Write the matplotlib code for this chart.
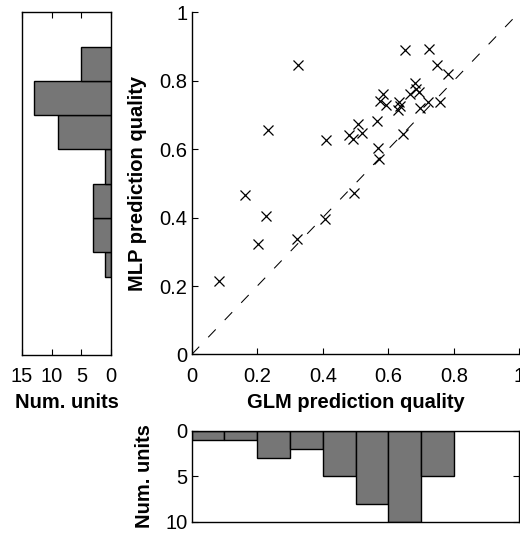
import matplotlib
matplotlib.use("Agg")
import matplotlib.pyplot as plt
import numpy as np

plt.rcParams['font.family'] = ['Liberation Sans', 'DejaVu Sans']

# GLM vs MLP prediction quality per unit
glm = [0.084, 0.163, 0.201, 0.226, 0.234, 0.322, 0.325, 0.407, 0.409, 0.480,
       0.493, 0.496, 0.509, 0.521, 0.565, 0.570, 0.572, 0.575, 0.585, 0.593,
       0.629, 0.634, 0.637, 0.646, 0.651, 0.666, 0.682, 0.685, 0.695, 0.697,
       0.722, 0.725, 0.748, 0.758, 0.781]
mlp = [0.214, 0.467, 0.324, 0.405, 0.657, 0.337, 0.845, 0.397, 0.628, 0.640,
       0.631, 0.473, 0.674, 0.648, 0.682, 0.603, 0.572, 0.742, 0.762, 0.730,
       0.713, 0.738, 0.726, 0.645, 0.891, 0.762, 0.793, 0.775, 0.767, 0.720,
       0.738, 0.893, 0.845, 0.738, 0.820]

# histogram of GLM quality (bottom)
glm_bin_edges = [0.0, 0.1, 0.2, 0.3, 0.4, 0.5, 0.6, 0.7, 0.8]
glm_counts = [1, 1, 3, 2, 5, 8, 10, 5]

# histogram of MLP quality (left)
mlp_bin_edges = [0.227, 0.3, 0.4, 0.5, 0.6, 0.7, 0.8, 0.9]
mlp_counts = [1, 3, 3, 1, 9, 13, 5]

main_ticks = [0, 0.2, 0.4, 0.6, 0.8, 1]
main_ticklabels = ['0', '0.2', '0.4', '0.6', '0.8', '1']
left_ticks = [15, 10, 5, 0]
bottom_ticks = [0, 5, 10]

bar_color = '#767676'
fs = 14.5
fsl = 14.5

fig = plt.figure(figsize=(5.2, 5.33), dpi=100)

# main scatter
ax = fig.add_axes([0.3687, 0.3349, 0.630, 0.6422])
ax.plot([0, 1], [0, 1], color='black', linestyle=(0, (10.4, 12.5)), linewidth=0.75)
ax.plot(glm, mlp, linestyle='none', marker='x', markersize=6.5,
        markeredgewidth=0.9, color='black')
ax.set_xlim(0, 1)
ax.set_ylim(0, 1)
ax.set_xticks(main_ticks)
ax.set_xticklabels(main_ticklabels)
ax.set_yticks(main_ticks)
ax.set_yticklabels(main_ticklabels)
ax.spines['top'].set_visible(False)
ax.spines['right'].set_visible(False)
ax.tick_params(direction='in', length=4, labelsize=fs)
ax.tick_params(axis='x', pad=9)
ax.tick_params(axis='y', pad=3)
ax.set_xlabel('GLM prediction quality', fontsize=fsl, fontweight='bold', labelpad=5)
ax.set_ylabel('MLP prediction quality', fontsize=fsl, fontweight='bold', labelpad=9)

# left histogram
axl = fig.add_axes([0.0417, 0.3340, 0.1723, 0.6429])
e = np.array(mlp_bin_edges)
axl.barh((e[:-1] + e[1:]) / 2, mlp_counts, height=np.diff(e),
         color=bar_color, edgecolor='black', linewidth=1.0)
axl.set_xlim(15, 0)
axl.set_ylim(0, 1)
axl.set_yticks([])
axl.set_xticks(left_ticks)
axl.set_xticklabels([str(t) for t in left_ticks])
axl.tick_params(direction='in', length=4, labelsize=fs, top=True, pad=9)
axl.set_xlabel('Num. units', fontsize=fsl, fontweight='bold', labelpad=4.5)

# bottom histogram
axb = fig.add_axes([0.3687, 0.0212, 0.630, 0.1702])
g = np.array(glm_bin_edges)
axb.bar((g[:-1] + g[1:]) / 2, glm_counts, width=np.diff(g),
        color=bar_color, edgecolor='black', linewidth=1.0)
axb.set_xlim(0, 1)
axb.set_ylim(10, 0)
axb.set_xticks([])
axb.set_yticks(bottom_ticks)
axb.set_yticklabels([str(t) for t in bottom_ticks])
axb.tick_params(direction='in', length=4, labelsize=fs, right=True, pad=3)
axb.set_ylabel('Num. units', fontsize=fsl, fontweight='bold', labelpad=8.5)

for a in (ax, axl, axb):
    for s in a.spines.values():
        s.set_linewidth(1.0)

fig.savefig('out.png', dpi=100)
